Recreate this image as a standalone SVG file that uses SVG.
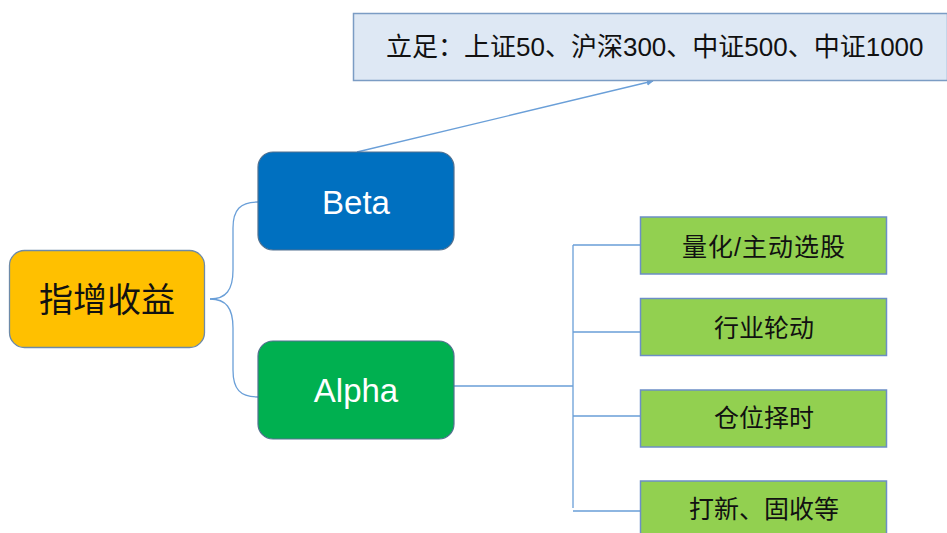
<svg xmlns="http://www.w3.org/2000/svg" width="947" height="533" viewBox="0 0 947 533">
<style>
.cjk{font-family:"Liberation Sans","Noto Sans CJK SC",sans-serif;fill:#111}
.lat{font-family:"Liberation Sans","Noto Sans CJK SC",sans-serif;fill:#fff}
.conn{fill:none;stroke:#6A9FD8;stroke-width:1.3}
.leaf{fill:#92D050;stroke:#6C8EC6;stroke-width:1.5}
</style>
<defs>
<marker id="ah" viewBox="0 0 10 10" refX="9" refY="5" markerWidth="7" markerHeight="7" orient="auto" markerUnits="userSpaceOnUse">
<path d="M0,0 L10,5 L0,10 z" fill="#6A9FD8"/>
</marker>
</defs>
<rect width="947" height="533" fill="#fff"/>
<g id="connectors">
<path class="conn" d="M210,299 C226,299 233,290 233,270 L233,228 C233,210 240,202 258,202"/>
<path class="conn" d="M210,299 C226,299 233,308 233,328 L233,370 C233,389 240,397 258,397"/>
<path class="conn" d="M357,152 L653,81" marker-end="url(#ah)"/>
<path class="conn" d="M454,386 L573,386 M573,245 L573,508 M573,245 L640,245 M573,332 L640,332 M573,416 L640,416 M573,511 L640,511"/>
</g>
<g id="top">
<rect x="353.5" y="13.5" width="594" height="67" fill="#DEE8F4" stroke="#7B9CC4" stroke-width="1.5"/>
<text class="cjk" x="386" y="47" font-size="26" dominant-baseline="central">立足：上证50、沪深300、中证500、中证1000</text>
</g>
<g id="root">
<rect x="9.5" y="250.5" width="195" height="97" rx="15" fill="#FFC000" stroke="#6D8AA8" stroke-width="1.3"/>
<text class="cjk" x="107" y="300" font-size="34" text-anchor="middle" dominant-baseline="central">指增收益</text>
</g>
<g id="beta">
<rect x="258" y="152" width="196" height="98" rx="15" fill="#0070C0" stroke="#52708F" stroke-width="1.2"/>
<text class="lat" x="356" y="214" font-size="33" text-anchor="middle">Beta</text>
</g>
<g id="alpha">
<rect x="258" y="341" width="196" height="98" rx="15" fill="#00B050" stroke="#52708F" stroke-width="1.2"/>
<text class="lat" x="356" y="402" font-size="33" text-anchor="middle">Alpha</text>
</g>
<g id="leaf1">
<rect class="leaf" x="640.5" y="217" width="246" height="57"/>
<text class="cjk" x="764" y="247" font-size="25" text-anchor="middle" dominant-baseline="central" letter-spacing="1">量化/主动选股</text>
</g>
<g id="leaf2">
<rect class="leaf" x="640.5" y="298.5" width="246" height="57"/>
<text class="cjk" x="764" y="328" font-size="25" text-anchor="middle" dominant-baseline="central">行业轮动</text>
</g>
<g id="leaf3">
<rect class="leaf" x="640.5" y="390" width="246" height="57"/>
<text class="cjk" x="764" y="418" font-size="25" text-anchor="middle" dominant-baseline="central">仓位择时</text>
</g>
<g id="leaf4">
<rect class="leaf" x="640.5" y="481" width="246" height="60"/>
<text class="cjk" x="764" y="509" font-size="25" text-anchor="middle" dominant-baseline="central">打新、固收等</text>
</g>
</svg>
